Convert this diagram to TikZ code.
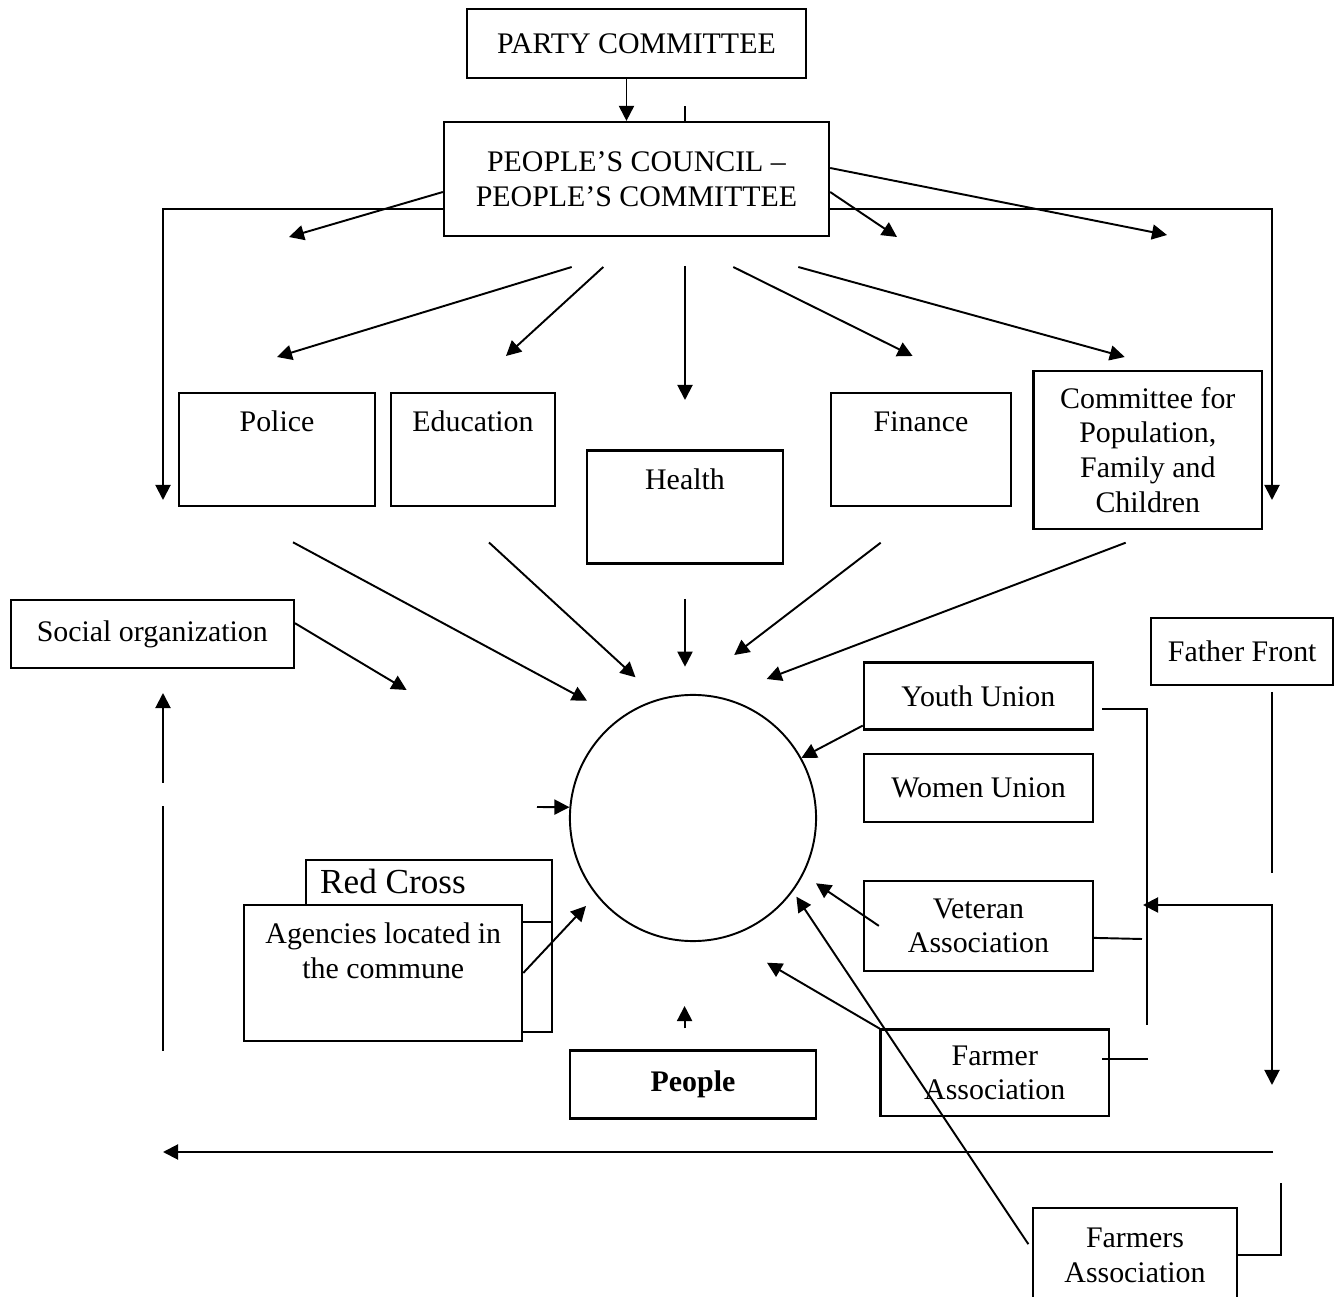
\documentclass[tikz,border=0pt]{standalone}
\usepackage{fontspec}
\setmainfont{Liberation Serif}
\usetikzlibrary{arrows.meta}

\begin{document}
\begin{tikzpicture}[x=0.01cm,y=-0.01cm,font=\fontsize{8.5}{9.9}\selectfont,
  box/.style={shape=rectangle,draw=black,line width=0.6pt,align=center,inner sep=1pt},
  boxW/.style={box,fill=white},
  txt/.style={inner sep=0pt,align=center},
  ln/.style={line width=0.55pt},
  arr/.style={ln,-{Triangle[length=0.15cm,width=0.15cm]}},
  dbl/.style={ln,{Triangle[length=0.15cm,width=0.15cm]}-{Triangle[length=0.15cm,width=0.15cm]}}]
\useasboundingbox (0,0) rectangle (1335,1297);
\clip (0,0) rectangle (1335,1297);

% top
\node[box,minimum width=3.39cm,minimum height=0.69cm] (party) at (636.5,43.5) {PARTY COMMITTEE};
\node[box,minimum width=3.85cm,minimum height=1.14cm] (council) at (636.5,179) {PEOPLE’S COUNCIL –\\PEOPLE’S COMMITTEE};
\draw[arr] ([xshift=-0.1cm]party.south) -- ([xshift=-0.1cm]council.north);
\draw[ln] ([xshift=0.485cm]council.north) -- ++(0,-15);

\coordinate (lDown) at (163,500);
\coordinate (rDown) at (1272,500);
\coordinate (lTip) at (289,237);
\coordinate (rTipA) at (1167,235);
\coordinate (rTipB) at (897,237);
\draw[arr] ([yshift=-0.3cm]council.west) -| (lDown);
\draw[arr] ([yshift=-0.3cm]council.east) -| (rDown);
\draw[arr] ([yshift=-0.13cm]council.west) -- (lTip);
\draw[arr] ([yshift=0.11cm]council.east) -- (rTipA);
\draw[arr] ([yshift=-0.13cm]council.east) -- (rTipB);

% departments
\node[box,minimum width=1.96cm,minimum height=1.13cm] (police) at (277,449.5) {};
\node[txt] (policeT) at (277,421.7) {Police};
\node[box,minimum width=1.64cm,minimum height=1.13cm] (education) at (472.9,449.5) {};
\node[txt] (educationT) at (473,421.7) {Education};
\node[box,minimum width=1.96cm,minimum height=1.13cm] (health) at (684.9,507) {};
\node[txt] (healthT) at (685,479.3) {Health};
\node[box,minimum width=1.80cm,minimum height=1.13cm] (finance) at (921.2,449.7) {};
\node[txt] (financeT) at (921,421.7) {Finance};
\node[box,minimum width=2.285cm,minimum height=1.58cm] (committee) at (1147.8,450) {Committee for\\Population,\\Family and\\Children};

\coordinate (polS) at (571.7,267);  \coordinate (polE) at (277,357);
\coordinate (eduS) at (603.3,267);  \coordinate (eduE) at (506,356);
\coordinate (heaS) at (685,266);    \coordinate (heaE) at (685,400);
\coordinate (finS) at (733.3,267);  \coordinate (finE) at (912.6,356);
\coordinate (comS) at (798.3,267);  \coordinate (comE) at (1124.8,357);
\draw[arr] (polS) -- (polE);
\draw[arr] (eduS) -- (eduE);
\draw[arr] (heaS) -- (heaE);
\draw[arr] (finS) -- (finE);
\draw[arr] (comS) -- (comE);

% centre
\node[draw,circle,line width=0.55pt,minimum size=2.46cm,inner sep=0pt] (centre) at (693,818) {};

\coordinate (polS2) at (293,542.3);   \coordinate (polE2) at (587,700.7);
\coordinate (eduS2) at (489,542.5);   \coordinate (eduE2) at (635.5,677.3);
\coordinate (heaS2) at (685,599);     \coordinate (heaE2) at (685,666.7);
\coordinate (finS2) at (880.7,542.7); \coordinate (finE2) at (734.2,655);
\coordinate (comS2) at (1125.7,542.7); \coordinate (comE2) at (766.7,679);
\draw[arr] (polS2) -- (polE2);
\draw[arr] (eduS2) -- (eduE2);
\draw[arr] (heaS2) -- (heaE2);
\draw[arr] (finS2) -- (finE2);
\draw[arr] (comS2) -- (comE2);

% left side
\node[box,minimum width=2.83cm,minimum height=0.68cm] (social) at (152.3,634.2) {Social organization};
\coordinate (socE) at (406.6,690);
\draw[arr] ([yshift=0.11cm]social.east) -- (socE);
\coordinate (leftS) at (537,807);
\draw[arr] (leftS) -- (centre.175);

\node[box,minimum width=2.45cm,minimum height=1.72cm] (redcross) at (429,945.9) {};
\node[txt,font=\fontsize{10}{12}\selectfont] (redcrossT) at (393,881.7) {Red Cross};
\coordinate (rcLine) at (551.3,922.3);
\draw[ln] (rcLine) -- (rcLine -| redcross.west);
\node[boxW,minimum width=2.78cm,minimum height=1.36cm] (agencies) at (383.2,972.9) {};
\node[txt] (agenciesT) at (383.3,950.8) {Agencies located in\\the commune};
\coordinate (ageE) at (586,906);
\draw[arr] (agencies.east) -- (ageE);

\coordinate (lvA) at (163,1051); \coordinate (lvB) at (163,806);
\coordinate (lvC) at (163,783);  \coordinate (lvD) at (163,693);
\draw[ln] (lvA) -- (lvB);
\draw[arr] (lvC) -- (lvD);

% bottom
\node[box,minimum width=2.45cm,minimum height=0.68cm] (people) at (693,1084.5) {\textbf{People}};
\coordinate (pplS) at (684.6,1028.3); \coordinate (pplE) at (684.6,1006);
\draw[arr] (pplS) -- (pplE);

% right side
\node[box,minimum width=1.82cm,minimum height=0.67cm] (father) at (1242.2,651.4) {Father Front};
\node[box,minimum width=2.29cm,minimum height=0.67cm] (youth) at (978.4,696) {Youth Union};
\node[box,minimum width=2.29cm,minimum height=0.68cm] (women) at (978.5,788.2) {Women Union};
\node[box,minimum width=2.29cm,minimum height=0.90cm] (veteran) at (978.5,925.9) {Veteran\\Association};
\node[box,minimum width=2.285cm,minimum height=0.865cm] (farmer) at (994.8,1072.8) {Farmer\\Association};
\node[box,minimum width=2.03cm,minimum height=0.94cm] (farmers) at (1135,1255.2) {Farmers\\Association};

\draw[arr] ([yshift=0.05cm]youth.south west) -- (centre.29);
\coordinate (vetE) at (816,883.3);
\draw[arr] ([xshift=0.16cm]veteran.west) -- (vetE);
\coordinate (farE) at (767,962.7);
\draw[arr] (farmer.north west) -- (farE);
\coordinate (farsE) at (796.4,896.7);
\draw[arr] ([shift={(-4,-11)}]farmers.west) -- (farsE);

\coordinate (busA) at (1147,1025);
\coordinate (vetB) at (1142,939);
\draw[ln] ([shift={(8,13)}]youth.east) -| (busA);
\draw[ln] ([yshift=-0.12cm]veteran.east) -- (vetB);
\draw[ln] ([shift={(-8,-14)}]farmer.east) -- ++(46,0);

\coordinate (dblS) at (1143,905); \coordinate (dblE) at (1272,1085);
\draw[dbl] (dblS) -| (dblE);
\coordinate (ffS) at (1272,692); \coordinate (ffE) at (1272,873);
\draw[ln] (ffS) -- (ffE);

\coordinate (botS) at (1273,1152); \coordinate (botE) at (163,1152);
\draw[arr] (botS) -- (botE);
\coordinate (farsB) at (1281,1183);
\draw[ln] (farmers.east) -| (farsB);
\end{tikzpicture}
\end{document}
